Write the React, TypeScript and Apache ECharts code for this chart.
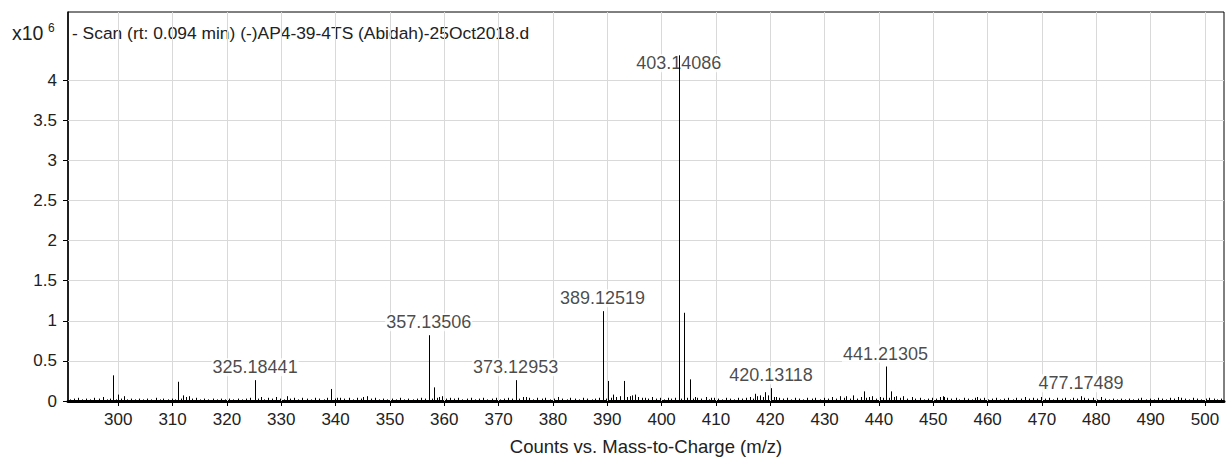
import React, { useEffect, useRef } from "react";
import * as echarts from "echarts";

// Axis ticks
const xTicks = [300, 310, 320, 330, 340, 350, 360, 370, 380, 390, 400, 410, 420, 430, 440, 450, 460, 470, 480, 490, 500];
const yTicks = [0, 0.5, 1, 1.5, 2, 2.5, 3, 3.5, 4];

// Main peaks: [m/z, intensity x10^6]
const mainPeaks: [number, number][] = [
  [299.0, 0.32], [300.0, 0.08], [301.0, 0.06], [311.0, 0.24], [312.0, 0.07], [313.0, 0.06],
  [325.18441, 0.26], [326.2, 0.05], [331.0, 0.06], [339.2, 0.15], [340.2, 0.04], [345.0, 0.05],
  [357.13506, 0.82], [358.14, 0.17], [359.1, 0.05], [373.12953, 0.26], [375.1, 0.05],
  [389.12519, 1.12], [390.13, 0.25], [391.1, 0.08], [393.1, 0.25], [394.1, 0.06], [395.1, 0.08], [397.0, 0.04],
  [403.14086, 4.31], [404.14, 1.1], [405.14, 0.27], [406.1, 0.05], [409.0, 0.04],
  [417.1, 0.09], [418.1, 0.07], [419.1, 0.11], [420.13118, 0.16], [421.1, 0.05],
  [434.0, 0.06], [437.2, 0.12], [438.2, 0.05], [441.21305, 0.43], [442.2, 0.12], [443.2, 0.06],
  [452.0, 0.05], [458.0, 0.05], [477.17489, 0.06], [495.0, 0.05],
];

// Low-level baseline signals: [m/z, intensity x10^6]
const noisePeaks: [number, number][] = [
  [291.2, 0.02], [291.9, 0.03], [292.5, 0.04], [293.3, 0.02], [294.1, 0.03], [294.8, 0.02], [295.6, 0.04], [296.4, 0.03],
  [297.2, 0.05], [297.9, 0.02], [298.5, 0.03], [299.6, 0.02], [300.5, 0.03], [301.7, 0.02], [302.4, 0.03], [303.1, 0.02],
  [303.8, 0.03], [304.6, 0.02], [305.3, 0.03], [306.1, 0.02], [306.9, 0.04], [307.6, 0.02], [308.3, 0.03], [309.1, 0.02],
  [309.8, 0.03], [310.5, 0.02], [311.6, 0.03], [312.5, 0.05], [313.6, 0.03], [314.3, 0.04], [315.0, 0.02], [315.8, 0.03],
  [316.6, 0.02], [317.4, 0.03], [318.1, 0.02], [318.9, 0.03], [319.7, 0.02], [320.4, 0.03], [321.2, 0.02], [322.0, 0.03],
  [322.8, 0.02], [323.5, 0.03], [324.3, 0.04], [325.7, 0.03], [326.8, 0.02], [327.5, 0.04], [328.3, 0.03], [329.1, 0.05],
  [329.8, 0.03], [330.5, 0.02], [331.6, 0.03], [332.3, 0.04], [333.1, 0.02], [333.9, 0.04], [334.7, 0.03], [335.4, 0.02],
  [336.2, 0.04], [337.0, 0.03], [337.8, 0.02], [338.5, 0.04], [339.8, 0.03], [340.9, 0.04], [341.6, 0.03], [342.4, 0.04],
  [343.2, 0.02], [343.9, 0.04], [344.6, 0.03], [345.7, 0.06], [346.5, 0.03], [347.2, 0.04], [348.0, 0.02], [348.8, 0.03],
  [349.5, 0.02], [350.3, 0.03], [351.1, 0.02], [351.9, 0.04], [352.6, 0.02], [353.4, 0.03], [354.2, 0.02], [355.0, 0.03],
  [355.7, 0.04], [356.5, 0.03], [357.7, 0.03], [358.6, 0.04], [359.6, 0.06], [360.3, 0.03], [361.0, 0.04], [361.8, 0.03],
  [362.6, 0.04], [363.3, 0.02], [364.1, 0.03], [364.9, 0.04], [365.6, 0.02], [366.4, 0.03], [367.2, 0.04], [367.9, 0.02],
  [368.7, 0.03], [369.5, 0.04], [370.2, 0.02], [371.0, 0.03], [371.8, 0.04], [372.5, 0.03], [373.7, 0.03], [374.4, 0.05],
  [375.6, 0.04], [376.3, 0.02], [377.1, 0.04], [377.9, 0.03], [378.6, 0.04], [379.4, 0.02], [380.2, 0.03], [380.9, 0.05],
  [381.7, 0.03], [382.5, 0.02], [383.2, 0.04], [384.0, 0.03], [384.8, 0.02], [385.5, 0.04], [386.3, 0.03], [387.1, 0.02],
  [387.8, 0.03], [388.5, 0.04], [389.7, 0.03], [390.6, 0.04], [391.6, 0.05], [392.4, 0.06], [393.6, 0.05], [394.6, 0.07],
  [395.6, 0.05], [396.3, 0.04], [397.5, 0.03], [398.2, 0.05], [398.9, 0.03], [399.7, 0.04], [400.4, 0.02], [401.1, 0.04],
  [401.8, 0.03], [402.5, 0.04], [403.6, 0.03], [404.6, 0.04], [405.7, 0.03], [406.6, 0.04], [407.3, 0.03], [408.1, 0.05],
  [408.8, 0.02], [409.6, 0.04], [410.3, 0.03], [411.1, 0.02], [411.8, 0.04], [412.6, 0.03], [413.3, 0.02], [414.1, 0.04],
  [414.8, 0.03], [415.6, 0.04], [416.3, 0.05], [416.9, 0.03], [417.6, 0.06], [418.6, 0.05], [419.5, 0.07], [420.6, 0.05],
  [421.6, 0.04], [422.3, 0.03], [423.1, 0.04], [423.8, 0.02], [424.6, 0.04], [425.3, 0.03], [426.1, 0.02], [426.8, 0.04],
  [427.6, 0.03], [428.3, 0.04], [429.1, 0.02], [429.8, 0.04], [430.6, 0.03], [431.3, 0.05], [432.1, 0.03], [432.8, 0.06],
  [433.5, 0.04], [434.6, 0.03], [435.3, 0.07], [436.0, 0.03], [436.7, 0.05], [437.7, 0.04], [438.7, 0.06], [439.4, 0.03],
  [440.1, 0.05], [440.7, 0.04], [441.8, 0.04], [442.7, 0.05], [443.8, 0.04], [444.5, 0.06], [445.2, 0.03], [446.0, 0.05],
  [446.7, 0.03], [447.5, 0.04], [448.2, 0.02], [449.0, 0.03], [449.7, 0.04], [450.5, 0.03], [451.2, 0.05], [451.8, 0.06],
  [452.6, 0.04], [453.3, 0.03], [454.1, 0.04], [454.8, 0.02], [455.6, 0.04], [456.3, 0.03], [457.1, 0.02], [457.6, 0.04],
  [458.6, 0.03], [459.3, 0.04], [460.1, 0.02], [460.8, 0.03], [461.6, 0.04], [462.3, 0.02], [463.1, 0.03], [463.8, 0.04],
  [464.6, 0.02], [465.3, 0.04], [466.1, 0.03], [466.8, 0.05], [467.6, 0.03], [468.3, 0.04], [469.1, 0.03], [469.8, 0.05],
  [470.6, 0.03], [471.3, 0.04], [472.1, 0.02], [472.8, 0.04], [473.6, 0.03], [474.3, 0.04], [475.1, 0.02], [475.8, 0.04],
  [476.5, 0.03], [477.8, 0.04], [478.5, 0.03], [479.3, 0.04], [480.1, 0.02], [480.8, 0.05], [481.6, 0.03], [482.3, 0.02],
  [483.1, 0.03], [483.8, 0.02], [484.6, 0.03], [485.3, 0.02], [486.1, 0.03], [486.8, 0.02], [487.6, 0.03], [488.3, 0.04],
  [489.1, 0.02], [489.8, 0.03], [490.6, 0.02], [491.3, 0.04], [492.1, 0.03], [492.8, 0.02], [493.6, 0.04], [494.3, 0.03],
  [495.6, 0.04], [496.3, 0.03], [497.1, 0.02], [497.8, 0.04], [498.6, 0.03], [499.3, 0.02], [500.1, 0.03], [500.8, 0.04],
  [501.6, 0.03], [502.3, 0.02], [503.0, 0.03],
];

// Annotated peaks: [m/z, intensity x10^6]
const labeledPeaks: [number, number][] = [
  [325.18441, 0.26], [357.13506, 0.82], [373.12953, 0.26], [389.12519, 1.12],
  [403.14086, 4.31], [420.13118, 0.16], [441.21305, 0.43], [477.17489, 0.06],
];

const titleText = "- Scan (rt: 0.094 min) (-)AP4-39-4TS (Abidah)-25Oct2018.d";
const xAxisTitle = "Counts vs. Mass-to-Charge (m/z)";

const FONT = "'Liberation Sans', Arial, sans-serif";
const TEXT_COLOR = "#222222";
const GRID_COLOR = "#d9d9d9";

export default function App() {
  const ref = useRef<HTMLDivElement>(null);

  useEffect(() => {
    if (!ref.current) return;
    const chart = echarts.init(ref.current, undefined, { renderer: "svg" });

    const sticks = [...noisePeaks, ...mainPeaks];

    chart.setOption({
      animation: false,
      backgroundColor: "#ffffff",
      textStyle: { fontFamily: FONT },
      grid: {
        left: 68,
        top: 12,
        right: 3,
        bottom: 56,
        containLabel: false,
        outerBoundsMode: "none",
        show: true,
        borderColor: "#000",
        borderWidth: 1,
        backgroundColor: "transparent",
      },
      xAxis: {
        type: "value",
        min: 290.75,
        max: 503.5,
        name: xAxisTitle,
        nameLocation: "middle",
        nameGap: 36,
        nameTextStyle: { fontSize: 18.5, color: TEXT_COLOR, fontFamily: FONT },
        axisLine: { show: true, lineStyle: { color: "#000", width: 3 } },
        axisTick: { show: true, length: 5, customValues: xTicks, lineStyle: { color: "#000", width: 1 } },
        axisLabel: { customValues: xTicks, fontSize: 17, color: TEXT_COLOR, margin: 10, fontFamily: FONT },
        splitLine: { show: false },
      },
      yAxis: {
        type: "value",
        min: 0,
        max: 4.85,
        axisLine: { show: true, lineStyle: { color: "#000", width: 1.5 } },
        axisTick: { show: true, length: 5, customValues: yTicks, lineStyle: { color: "#000", width: 1 } },
        axisLabel: {
          customValues: yTicks,
          fontSize: 17,
          color: TEXT_COLOR,
          margin: 11,
          fontFamily: FONT,
          formatter: (v: number) => String(v),
        },
        splitLine: { show: false },
      },
      series: [
        {
          // grid lines
          type: "line",
          data: [],
          z: 1,
          silent: true,
          markLine: {
            z: 1,
            silent: true,
            symbol: ["none", "none"],
            label: { show: false },
            lineStyle: { color: GRID_COLOR, type: "solid", width: 1 },
            data: [
              ...xTicks.map((v) => ({ xAxis: v })),
              ...yTicks.filter((v) => v > 0).map((v) => ({ yAxis: v })),
            ],
          },
        },
        {
          // peak annotations, painted over the grid and under the sticks
          type: "scatter",
          z: 2,
          symbolSize: 0,
          silent: true,
          data: labeledPeaks.map(([mz, h]) => ({
            value: [mz, h],
            label:
              mz === 403.14086
                ? { show: true, offset: [0, 21] }
                : { show: true },
          })),
          label: {
            show: true,
            position: "top",
            distance: 4,
            fontSize: 18,
            color: "#1a1a1a",
            fontFamily: FONT,
            backgroundColor: "#ffffff",
            padding: [0, 1],
            formatter: (p: any) => p.value[0].toFixed(5),
          },
        },
        {
          type: "custom",
          z: 3,
          clip: true,
          data: sticks,
          renderItem: (_params: any, api: any) => {
            const mz = api.value(0);
            const h = api.value(1);
            const p0 = api.coord([mz, 0]);
            const p1 = api.coord([mz, h]);
            const x = Math.round(p0[0]) + 0.5;
            return {
              type: "line",
              shape: { x1: x, y1: p0[1], x2: x, y2: p1[1] },
              style: { stroke: "#000", lineWidth: 1 },
            };
          },
        },
      ],
      graphic: [
        {
          type: "text",
          left: 12,
          top: 23,
          style: { text: "x10", fontSize: 19.5, fill: TEXT_COLOR, fontFamily: FONT },
        },
        {
          type: "text",
          left: 48,
          top: 22,
          style: { text: "6", fontSize: 12, fill: TEXT_COLOR, fontFamily: FONT },
        },
        {
          type: "text",
          left: 72,
          top: 24,
          style: { text: titleText, fontSize: 17.4, fill: TEXT_COLOR, fontFamily: FONT },
        },
      ],
    });

    return () => chart.dispose();
  }, []);

  return (
    <div
      ref={ref}
      style={{ position: "absolute", left: 0, top: 0, width: 1227, height: 457 }}
    />
  );
}
